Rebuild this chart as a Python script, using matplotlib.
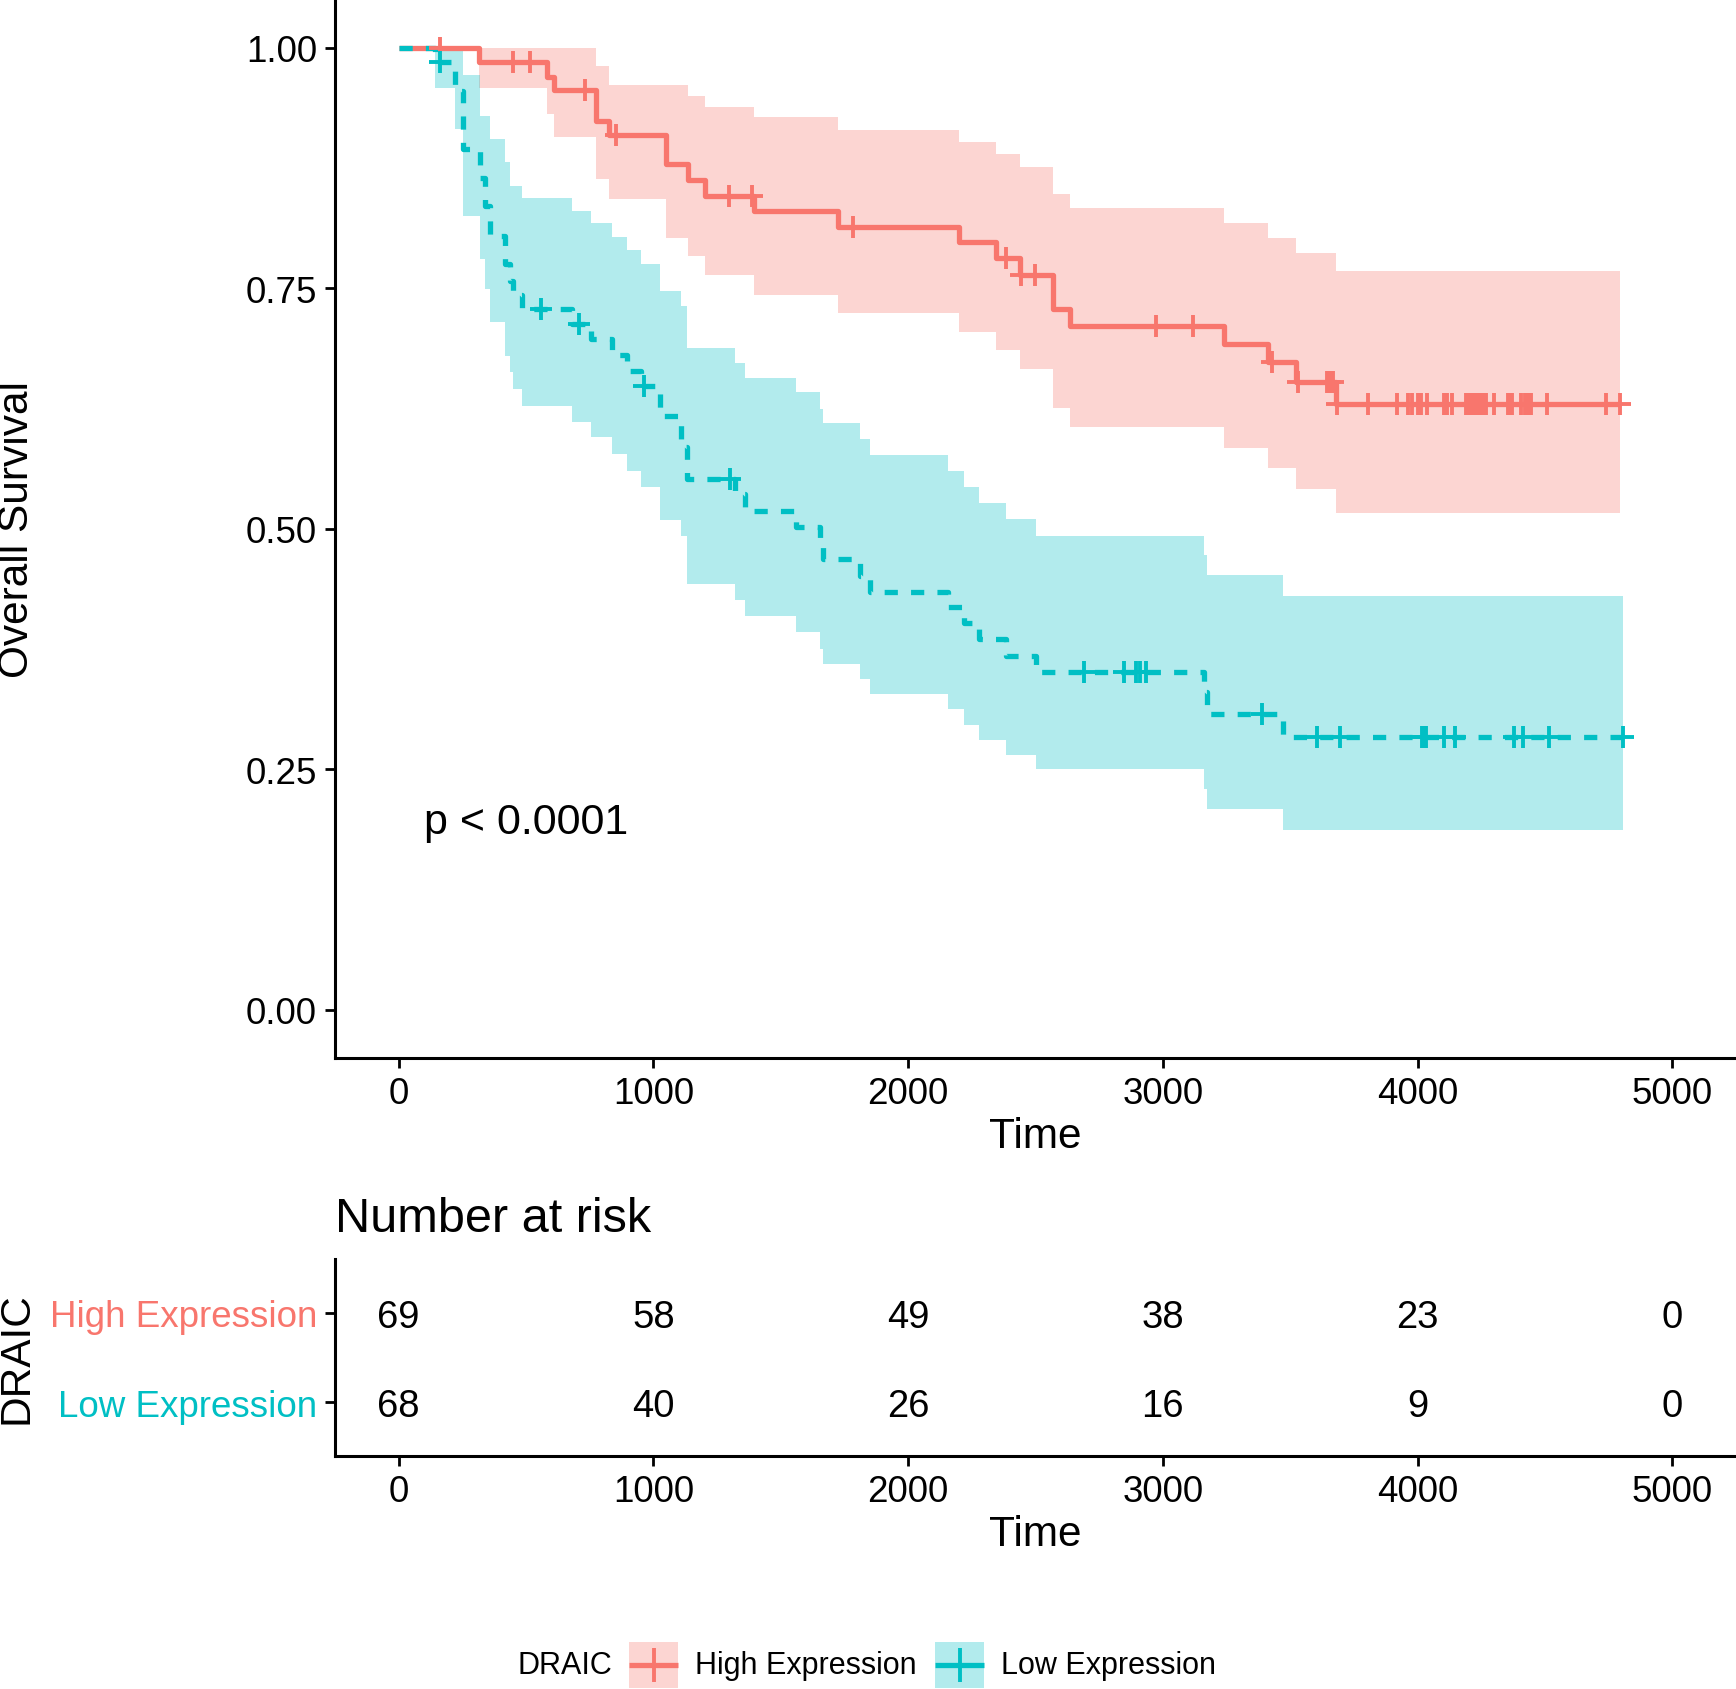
import numpy as np
import matplotlib
matplotlib.use("Agg")
import matplotlib.pyplot as plt
from matplotlib.patches import Rectangle

plt.rcParams['font.family'] = ['Liberation Sans', 'DejaVu Sans']

# ---- data ----
group_names = ["High Expression", "Low Expression"]
group_colors = ["#F8766D", "#00BFC4"]

# High Expression: step times, survival, CI upper / lower
high_time = [0, 317, 582, 608, 775, 824, 1050, 1134, 1203, 1393, 1723, 2198, 2343, 2438, 2569, 2637, 3239, 3412, 3521, 3678]
high_surv = [1.0, 0.9855, 0.970, 0.9564, 0.924, 0.909, 0.879, 0.8625, 0.846, 0.8306, 0.814, 0.7977, 0.781, 0.7637, 0.728, 0.711, 0.692, 0.673, 0.652, 0.6296]
high_upper = [1.0, 1.0, 1.0, 1.0, 0.981, 0.961, 0.961, 0.950, 0.9387, 0.9277, 0.9148, 0.9023, 0.8895, 0.8763, 0.848, 0.8334, 0.8178, 0.8022, 0.7863, 0.768]
high_lower = [1.0, 0.958, 0.931, 0.9075, 0.8635, 0.8427, 0.802, 0.783, 0.7637, 0.743, 0.724, 0.7048, 0.6858, 0.666, 0.6255, 0.606, 0.5839, 0.5631, 0.5413, 0.5163]
high_end = 4793
high_censor = [163, 447, 516, 732, 854, 1298, 1389, 1782, 2386, 2445, 2497, 2974, 3118, 3427, 3530,
               3643, 3656, 3669, 3685, 3805, 3920, 3963, 3979, 4002, 4014, 4035, 4103, 4114, 4134,
               4192, 4201, 4212, 4221, 4232, 4245, 4258, 4267, 4300, 4355, 4365, 4372, 4405, 4421,
               4433, 4447, 4509, 4738, 4793]

# Low Expression
low_time = [0, 143, 221, 252, 320, 340, 359, 418, 437, 450, 483, 680, 754, 837, 898, 951, 1024, 1109, 1131,
            1321, 1361, 1559, 1655, 1666, 1812, 1851, 2155, 2220, 2280, 2383, 2500, 3161, 3175, 3471]
low_surv = [1.0, 0.9853, 0.955, 0.8947, 0.865, 0.835, 0.8046, 0.775, 0.758, 0.743, 0.7284, 0.7128, 0.697,
            0.6806, 0.6642, 0.6487, 0.6175, 0.585, 0.5517, 0.536, 0.5187, 0.5015, 0.485, 0.4685, 0.451,
            0.4346, 0.4183, 0.4016, 0.3853, 0.368, 0.3514, 0.33, 0.3071, 0.2838]
low_upper = [1.0, 1.0, 1.0, 0.9716, 0.9293, 0.9293, 0.905, 0.8808, 0.8565, 0.8565, 0.8435, 0.830, 0.8175,
             0.803, 0.790, 0.7752, 0.7474, 0.7318, 0.6882, 0.6723, 0.6567, 0.6418, 0.6244, 0.6096, 0.5932,
             0.5766, 0.560, 0.5437, 0.5267, 0.510, 0.4927, 0.4727, 0.4519, 0.4304]
low_lower = [1.0, 0.958, 0.915, 0.8254, 0.78, 0.749, 0.7145, 0.680, 0.6626, 0.6452, 0.6279, 0.6106, 0.595,
             0.5777, 0.5603, 0.543, 0.509, 0.4927, 0.4425, 0.426, 0.4096, 0.393, 0.375, 0.359, 0.3438,
             0.328, 0.3126, 0.296, 0.2803, 0.265, 0.2502, 0.2294, 0.2086, 0.187]
low_end = 4808
low_censor = [163, 558, 706, 964, 1299, 2689, 2846, 2895, 2912, 2932, 3390, 3606, 3695, 4018, 4026, 4034,
              4103, 4145, 4378, 4415, 4516, 4808]

# number at risk table
risk_times = [0, 1000, 2000, 3000, 4000, 5000]
high_risk = [69, 58, 49, 38, 23, 0]
low_risk = [68, 40, 26, 16, 9, 0]

p_text = "p < 0.0001"

W, H = 1736, 1690
fig = plt.figure(figsize=(W / 100, H / 100), dpi=100)

TICK = 26.5
LAB = 30.5
LW = 3.8


def style_axes(ax):
    for s in ["top", "right"]:
        ax.spines[s].set_visible(False)
    for s in ["left", "bottom"]:
        ax.spines[s].set_linewidth(2.2)
    ax.tick_params(width=2.0, length=7.2, pad=5.8, labelsize=TICK, colors="black")


# ---- survival curves ----
ax = fig.add_axes([335 / W, 1 - 1058.8 / H, 1401 / W, 1058.2 / H])
style_axes(ax)

groups = [
    (high_time, high_surv, high_upper, high_lower, high_end, high_censor, "-"),
    (low_time, low_surv, low_upper, low_lower, low_end, low_censor, (0, (2.5, 2.5))),
]
for (t, s, up, lo, end, cens, ls), col in zip(groups, group_colors):
    x = list(t) + [end]
    ax.fill_between(x, list(lo) + [lo[-1]], list(up) + [up[-1]], step="post",
                    color=col, alpha=0.3, linewidth=0, zorder=1)
for (t, s, up, lo, end, cens, ls), col in zip(groups, group_colors):
    x = list(t) + [end]
    ax.plot(x, list(s) + [s[-1]], drawstyle="steps-post", color=col, lw=LW,
            linestyle=ls, zorder=3, solid_capstyle="butt", dash_capstyle="butt")
    idx = np.searchsorted(t, cens, side="right") - 1
    ax.plot(cens, np.asarray(s)[idx], linestyle="none", marker="+", color=col,
            markersize=16, markeredgewidth=2.8, zorder=4)

ax.set_xlim(-250, 5250)
ax.set_ylim(-0.05, 1.05)
ax.set_xticks(risk_times)
ax.set_yticks([0, 0.25, 0.5, 0.75, 1.0])
ax.set_yticklabels(["0.00", "0.25", "0.50", "0.75", "1.00"])
ax.set_xlabel("Time", fontsize=LAB)
ax.set_ylabel("Overall Survival", fontsize=LAB)
ax.xaxis.label.set_va("center")
ax.yaxis.label.set_va("center")
ax.xaxis.set_label_coords(0.5, -0.0739)
ax.yaxis.set_label_coords(-0.227, 0.5)
ax.text(100, 0.2, p_text, fontsize=31, ha="left", va="center_baseline")

# ---- risk table ----
rt = fig.add_axes([335 / W, 1 - 1457 / H, 1401 / W, 197 / H])
style_axes(rt)
rt.set_xlim(-250, 5250)
rt.set_ylim(0.4, 2.6)
for row, counts in zip([2, 1], [high_risk, low_risk]):
    for tt, n in zip(risk_times, counts):
        rt.text(tt, row, str(n), fontsize=27.5, ha="center", va="center_baseline")
rt.set_xticks(risk_times)
rt.set_yticks([2, 1])
rt.set_yticklabels(group_names)
for lab, col in zip(rt.get_yticklabels(), group_colors):
    lab.set_color(col)
rt.set_xlabel("Time", fontsize=LAB)
rt.set_ylabel("DRAIC", fontsize=LAB)
rt.xaxis.label.set_va("center")
rt.yaxis.label.set_va("center")
rt.xaxis.set_label_coords(0.5, -0.396)
rt.yaxis.set_label_coords(-0.227, 0.5)
rt.set_title("Number at risk", loc="left", fontsize=35, pad=20)

# ---- legend ----
lg = fig.add_axes([0, 0, 1, 1])
lg.set_xlim(0, W)
lg.set_ylim(H, 0)
lg.axis("off")
ly = 1666
lg.text(517, ly, "DRAIC", fontsize=22, ha="left", va="center")
key_x = [629, 935]
for kx, name, col in zip(key_x, group_names, group_colors):
    lg.add_patch(Rectangle((kx, ly - 23), 49, 46, facecolor=col, alpha=0.3, linewidth=0))
    lg.plot([kx, kx + 49], [ly, ly], color=col, lw=LW, solid_capstyle="butt")
    lg.plot([kx + 24.5], [ly], marker="+", color=col, markersize=24, markeredgewidth=2.8)
    lg.text(kx + 66, ly, name, fontsize=22, ha="left", va="center")

fig.savefig("out.png", dpi=100)
